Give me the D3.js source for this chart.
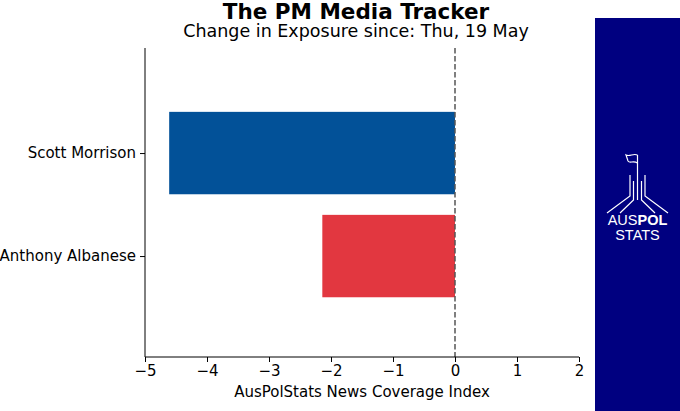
<!DOCTYPE html>
<html>
<head>
<meta charset="utf-8">
<script src="https://cdn.jsdelivr.net/npm/d3@7"></script>
<style>
  body { margin: 0; background: #fff; }
  svg { display: block; font-family: "DejaVu Sans", sans-serif; }
</style>
</head>
<body>
<svg id="chart" width="680" height="411"></svg>
<script>
const leaders = ["Anthony Albanese", "Scott Morrison"];
const leaderPos = [0, 1];
const exposureChange = [-2.14, -4.61];
const barColors = ["#e23740", "#025198"];
const xTicks = [-5, -4, -3, -2, -1, 0, 1, 2];

const svg = d3.select('#chart');

const x = d3.scaleLinear().domain([-5, 2]).range([145, 579]);
const y = d3.scaleLinear().domain([-0.98, 2.02]).range([357, 48]);
const barH = y(0) - y(0.8);

// titles
svg.append("text")
  .attr("x", 356).attr("y", 18.5)
  .attr("text-anchor", "middle")
  .style("font-size", "21.5px")
  .style("font-weight", "bold")
  .text("The PM Media Tracker");

svg.append("text")
  .attr("x", 356).attr("y", 36.5)
  .attr("text-anchor", "middle")
  .style("font-size", "17.5px")
  .text("Change in Exposure since: Thu, 19 May");

// bars
svg.append("g").selectAll("rect")
  .data(leaders)
  .enter()
  .append("rect")
  .attr("x", (d, i) => x(exposureChange[i]))
  .attr("width", (d, i) => x(0) - x(exposureChange[i]))
  .attr("y", (d, i) => y(leaderPos[i]) - barH / 2)
  .attr("height", barH)
  .attr("fill", (d, i) => barColors[i]);

// zero line
svg.append("line")
  .attr("x1", x(0)).attr("x2", x(0))
  .attr("y1", y(2.02)).attr("y2", y(-0.98))
  .attr("stroke", "#555")
  .attr("stroke-width", 1.5)
  .attr("stroke-dasharray", "5.5,2.5");

// axes
const xAxis = svg.append("g")
  .attr("transform", `translate(0,${y(-0.98)})`)
  .call(d3.axisBottom(x).tickValues(xTicks).tickSize(5).tickPadding(3)
    .tickFormat(d => d < 0 ? "\u2212" + Math.abs(d) : d));
xAxis.select(".domain").attr("d", `M${x(-5)},0H${x(2)}`);

const yAxis = svg.append("g")
  .attr("transform", `translate(${x(-5)},0)`)
  .call(d3.axisLeft(y).tickValues(leaderPos).tickSize(5).tickPadding(4)
    .tickFormat((d, i) => leaders[i]));
yAxis.select(".domain").attr("d", `M0,${y(2.02)}V${y(-0.98)}`);

svg.selectAll(".tick text")
  .style("font-size", "15px")
  .style("font-family", "DejaVu Sans")
  .attr("fill", "#000");
svg.selectAll(".domain, .tick line").attr("stroke", "#000").attr("stroke-width", 1);

svg.append("text")
  .attr("x", (x(-5) + x(2)) / 2).attr("y", 397)
  .attr("text-anchor", "middle")
  .style("font-size", "15px")
  .text("AusPolStats News Coverage Index");

// logo panel
const logo = svg.append("g");
logo.append("rect")
  .attr("x", 595).attr("y", 18)
  .attr("width", 85).attr("height", 393)
  .attr("fill", "#000080");

const lines = logo.append("g")
  .attr("fill", "none")
  .attr("stroke", "#fff")
  .attr("stroke-width", 1.2);
lines.append("path").attr("d", "M630,175V196L607,213");
lines.append("path").attr("d", "M633.5,181V200L620,213");
lines.append("path").attr("d", "M637.5,155V200");
lines.append("path").attr("d", "M641.5,181V200L655,213");
lines.append("path").attr("d", "M645,175V196L668,213");
lines.append("path").attr("d", "M637.5,155C633,153 630,157 626,155L628,161C630,164 633,160 637.5,163");

const logoText = logo.append("text")
  .attr("x", 637.5).attr("y", 225)
  .attr("text-anchor", "middle")
  .attr("fill", "#fff")
  .style("font-family", "Liberation Sans, Arial, sans-serif")
  .style("font-size", "14.5px")
  .text("AUS");
logoText.append("tspan").style("font-weight", "bold").text("POL");

logo.append("text")
  .attr("x", 637.5).attr("y", 240)
  .attr("text-anchor", "middle")
  .attr("fill", "#fff")
  .style("font-family", "Liberation Sans, Arial, sans-serif")
  .style("font-size", "14.5px")
  .text("STATS");
</script>
</body>
</html>
